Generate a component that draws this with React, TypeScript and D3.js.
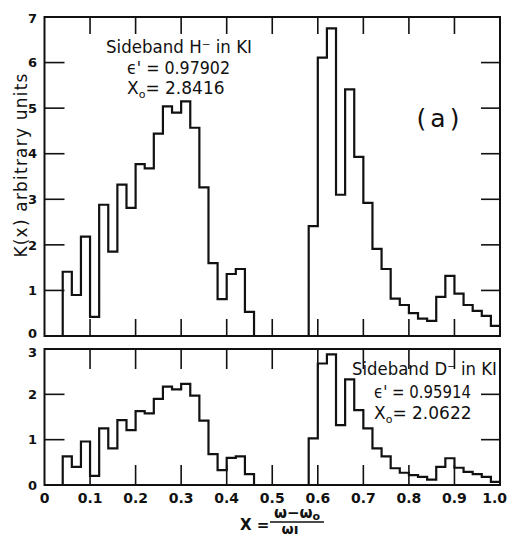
import React from "react";
import * as d3 from "d3";

const binStart = 0.04;
const binWidth = 0.02;
const topValues = [1.41, 0.9, 2.18, 0.42, 2.88, 1.85, 3.32, 2.81, 3.77, 3.68, 4.44, 5.04, 4.9, 5.15, 4.57, 3.26, 1.6, 0.81, 1.36, 1.47, 0.53,
  0, 0, 0, 0, 0, 0,
  2.41, 6.11, 6.75, 3.1, 5.41, 3.93, 2.92, 1.91, 1.47, 0.82, 0.68, 0.5, 0.38, 0.33, 0.86, 1.32, 0.93, 0.68, 0.55, 0.44, 0.22];
const bottomValues = [0.63, 0.4, 0.96, 0.2, 1.25, 0.81, 1.43, 1.21, 1.63, 1.58, 1.9, 2.17, 2.11, 2.23, 1.97, 1.42, 0.68, 0.33, 0.6, 0.63, 0.24,
  0, 0, 0, 0, 0, 0,
  1.03, 2.68, 2.88, 1.32, 2.33, 1.65, 1.25, 0.81, 0.63, 0.37, 0.27, 0.22, 0.18, 0.12, 0.4, 0.59, 0.38, 0.29, 0.24, 0.18, 0.07];
const xTicks = [0, 0.1, 0.2, 0.3, 0.4, 0.5, 0.6, 0.7, 0.8, 0.9, 1.0];
const xTickLabels = ["0", "0.1", "0.2", "0.3", "0.4", "0.5", "0.6", "0.7", "0.8", "0.9", "1.0"];
const topYTicks = [0, 1, 2, 3, 4, 5, 6, 7];
const bottomYTicks = [0, 1, 2, 3];

const FONT = "'DejaVu Sans', sans-serif";

function stepPoints(values: number[]): [number, number][] {
  const pts: [number, number][] = [[binStart, 0]];
  values.forEach((v, i) => {
    const a = binStart + i * binWidth;
    pts.push([a, v]);
    pts.push([a + binWidth, v]);
  });
  return pts;
}

function Panel({ values, y, yMax, yTicks, tickLen, zeroShift, topShift }: { values: number[]; y: d3.ScaleLinear<number, number>; yMax: number; yTicks: number[]; tickLen: number; zeroShift: number; topShift: number }) {
  const x = d3.scaleLinear().domain([0, 1]).range([44.5, 500]);
  const line = d3.line<[number, number]>().x(d => x(d[0])).y(d => y(d[1]));
  const inner = xTicks.filter(t => t > 0 && t < 1);
  const innerY = yTicks.filter(t => t > 0 && t < yMax);
  return (
    <g>
      <rect x={x(0)} y={y(yMax)} width={x(1) - x(0)} height={y(0) - y(yMax)} fill="none" stroke="#111" strokeWidth={2} />
      {inner.map(t => (
        <g key={"xt" + t}>
          <line x1={x(t)} x2={x(t)} y1={y(yMax)} y2={y(yMax) + tickLen} stroke="#111" strokeWidth={1.6} />
          <line x1={x(t)} x2={x(t)} y1={y(0)} y2={y(0) - tickLen} stroke="#111" strokeWidth={1.6} />
        </g>
      ))}
      {innerY.map(t => (
        <g key={"yt" + t}>
          <line x1={x(0)} x2={x(0) + 20} y1={y(t)} y2={y(t)} stroke="#111" strokeWidth={1.6} />
          <line x1={x(1)} x2={x(1) - 19} y1={y(t)} y2={y(t)} stroke="#111" strokeWidth={1.6} />
        </g>
      ))}
      {yTicks.map(t => (
        <text key={"yl" + t} x={37} y={y(t) + (t === 0 ? zeroShift : t === yMax ? topShift : 0)} dy="0.36em" textAnchor="end" fontFamily={FONT} fontWeight="bold" fontSize={13} fill="#111">{t}</text>
      ))}
      <path d={line(stepPoints(values)) || ""} fill="none" stroke="#111" strokeWidth={2.2} strokeLinejoin="miter" />
    </g>
  );
}

export default function App() {
  const x = d3.scaleLinear().domain([0, 1]).range([44.5, 500]);
  const yTop = d3.scaleLinear().domain([0, 7]).range([336, 17]);
  const yBot = d3.scaleLinear().domain([0, 3]).range([485, 349]);
  return (
    <svg width={509} height={537} style={{ position: "absolute", left: 0, top: 0, background: "#fff" }}>
      <rect width={509} height={537} fill="#fff" />
      <Panel values={topValues} y={yTop} yMax={7} yTicks={topYTicks} tickLen={17} zeroShift={-3} topShift={1} />
      <Panel values={bottomValues} y={yBot} yMax={3} yTicks={bottomYTicks} tickLen={20} zeroShift={0} topShift={3} />
      {xTicks.map((t, i) => (
        <text key={"xl" + t} x={t === 1 ? 507 : x(t)} y={498} dy="0.36em" textAnchor={t === 1 ? "end" : "middle"} fontFamily={FONT} fontWeight="bold" fontSize={14} fill="#111">{xTickLabels[i]}</text>
      ))}
      <text transform="translate(27,165) rotate(-90)" textAnchor="middle" fontFamily={FONT} fontSize={17} letterSpacing={1.2} fill="#111">K(x) arbitrary  units</text>
      {/* top annotations */}
      <text x={106} y={53} fontFamily={FONT} fontSize={17} fill="#111" textLength={146} lengthAdjust="spacingAndGlyphs">Sideband H⁻ in KI</text>
      <text x={127} y={74} fontFamily={FONT} fontSize={17} fill="#111" textLength={103} lengthAdjust="spacingAndGlyphs">ϵ' = 0.97902</text>
      <text x={127} y={94} fontFamily={FONT} fontSize={17} fill="#111">X<tspan fontSize={11} dy={4}>o</tspan><tspan dy={-4}>= 2.8416</tspan></text>
      <text x={440} y={127} textAnchor="middle" fontFamily={FONT} fontSize={25} fill="#111" letterSpacing={4}>(a)</text>
      {/* bottom annotations */}
      <text x={352} y={375} fontFamily={FONT} fontSize={17} fill="#111" textLength={145} lengthAdjust="spacingAndGlyphs">Sideband D⁻ in KI</text>
      <text x={374} y={398} fontFamily={FONT} fontSize={17} fill="#111" textLength={97} lengthAdjust="spacingAndGlyphs">ϵ' = 0.95914</text>
      <text x={374} y={419} fontFamily={FONT} fontSize={17} fill="#111">X<tspan fontSize={11} dy={4}>o</tspan><tspan dy={-4}>= 2.0622</tspan></text>
      {/* x label */}
      <text x={240} y={530} fontFamily={FONT} fontWeight="bold" fontSize={15} fill="#111">X =</text>
      <text x={297} y={518} textAnchor="middle" fontFamily={FONT} fontWeight="bold" fontSize={15} fill="#111">ω−ω<tspan fontSize={11} dy={2}>o</tspan></text>
      <line x1={270} x2={324} y1={522} y2={522} stroke="#111" strokeWidth={1.5} />
      <text x={290} y={534} textAnchor="middle" fontFamily={FONT} fontWeight="bold" fontSize={14} fill="#111">ωı</text>
    </svg>
  );
}
